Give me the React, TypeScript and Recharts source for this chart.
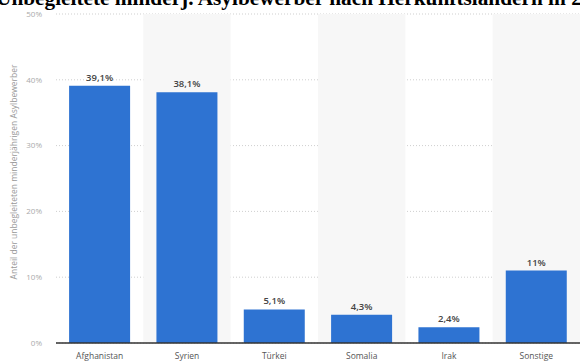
import React from 'react';
import { BarChart, Bar, XAxis, YAxis, CartesianGrid, ReferenceArea, LabelList } from 'recharts';

const categories = ['Afghanistan', 'Syrien', 'Türkei', 'Somalia', 'Irak', 'Sonstige'];
const shares = [39.1, 38.1, 5.1, 4.3, 2.4, 11];
const yTicks = [0, 10, 20, 30, 40, 50];
const shadedCategories = ['Syrien', 'Somalia', 'Sonstige'];
const title = 'Unbegleitete minderj. Asylbewerber nach Herkunftsländern in 2016';
const yLabel = 'Anteil der unbegleiteten minderjährigen Asylbewerber';

const data = categories.map((c, i) => ({ name: c, value: shares[i] }));

const fmt = (v: number) => `${String(v).replace('.', ',')}%`;

export default function App() {
  return (
    <div style={{ position: 'fixed', left: 0, top: 0, width: 580, height: 363, overflow: 'hidden', background: '#fff' }}>
      <BarChart width={580} height={363} data={data} margin={{ top: 14, right: 0, left: 0, bottom: 0 }} barCategoryGap="15%">
        {shadedCategories.map((c) => (
          <ReferenceArea key={c} x1={c} x2={c} y1={0} y2={50} fill="#f7f7f7" fillOpacity={1} stroke="none" />
        ))}
        <CartesianGrid vertical={false} stroke="#cfcfcf" strokeDasharray="1 2" />
        <XAxis
          dataKey="name"
          height={20}
          tickLine={false}
          axisLine={{ stroke: '#333', strokeWidth: 1.5 }}
          tick={{ fontSize: 8.5, fill: '#555', fontFamily: 'Open Sans' }}
          tickMargin={4}
          interval={0}
        />
        <YAxis
          width={56}
          domain={[0, 50]}
          ticks={yTicks}
          tickLine={false}
          axisLine={false}
          tickSize={0}
          tickMargin={14}
          tickFormatter={(v: number) => `${v}%`}
          tick={{ fontSize: 8, fill: '#aaa', fontFamily: 'Open Sans' }}
        />
        <Bar dataKey="value" fill="#2e73d2" isAnimationActive={false}>
          <LabelList
            dataKey="value"
            position="top"
            offset={5}
            formatter={(v: number) => fmt(v)}
            style={{ fontSize: 9.5, fontWeight: 600, fill: '#444', fontFamily: 'Open Sans' }}
          />
        </Bar>
      </BarChart>
      <svg width={580} height={363} style={{ position: 'absolute', left: 0, top: 0, pointerEvents: 'none' }}>
        <text x={-4} y={5} fontFamily="Liberation Serif" fontWeight={700} fontSize={21.3} fill="#000">{title}</text>
        <text
          x={17}
          y={172}
          transform="rotate(-90 17 172)"
          textAnchor="middle"
          fontFamily="Open Sans"
          fontSize={8.5}
          fill="#999"
        >{yLabel}</text>
      </svg>
    </div>
  );
}
